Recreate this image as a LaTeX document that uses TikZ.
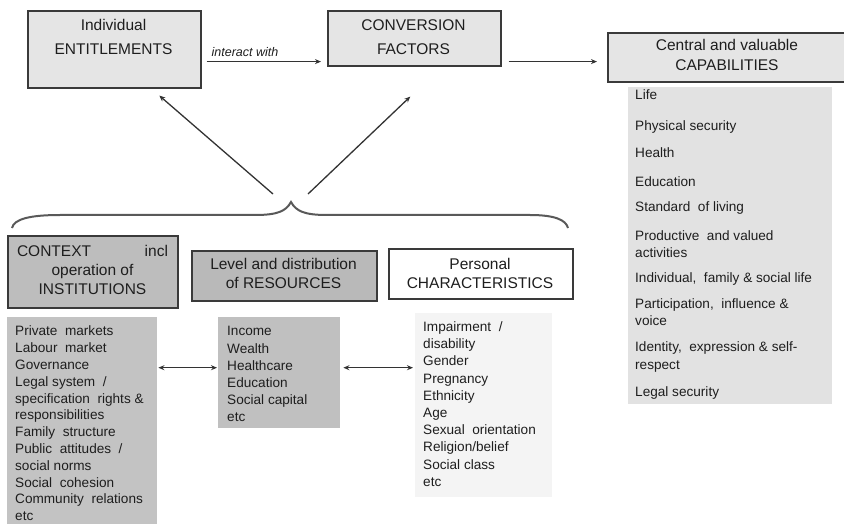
\documentclass[tikz,border=0pt]{standalone}
\usepackage{fontspec}
\setmainfont{Liberation Sans}
\usetikzlibrary{arrows.meta,calc}
\definecolor{bordc}{HTML}{3A3A3A}
\definecolor{txtc}{HTML}{1E1E1E}
\definecolor{topfill}{HTML}{E5E5E5}
\definecolor{capfill}{HTML}{E2E2E2}
\definecolor{ctxbox}{HTML}{BDBDBD}
\definecolor{ctxlist}{HTML}{C3C3C3}
\definecolor{resbox}{HTML}{B9B9B9}
\definecolor{reslist}{HTML}{C0C0C0}
\definecolor{perslist}{HTML}{F4F4F4}
\definecolor{linec}{HTML}{333333}
\begin{document}
\begin{tikzpicture}[x=1pt,y=-1pt,
  box/.style={draw=bordc, line width=1.6pt, inner sep=0pt, anchor=north west},
  panel/.style={draw=none, inner sep=0pt, anchor=north west},
  hdr/.style={font=\fontsize{15.5}{19.5}\selectfont, text=txtc, align=center, anchor=north, inner sep=0pt},
  lst/.style={font=\fontsize{13.6}{17.2}\selectfont, text=txtc, align=left, anchor=north west, inner sep=0pt},
  arr/.style={draw=linec, line width=1.3pt, -{Stealth[length=6pt,width=5pt]}},
  darr/.style={draw=linec, line width=1.3pt, {Stealth[length=6pt,width=5pt]}-{Stealth[length=6pt,width=5pt]}},
  bracec/.style={draw=black!65, line width=2pt}
]
\useasboundingbox (0,0) rectangle (844,524);

% ---------- top row ----------
\node[box, fill=topfill, minimum width=173pt, minimum height=77pt] (ent) at (27,10) {};
\node[hdr, font=\fontsize{15.5}{24}\selectfont] (entt) at (113.5,19.5) {Individual\\ENTITLEMENTS};

\node[box, fill=topfill, minimum width=173pt, minimum height=55pt] (conv) at (327,10) {};
\node[hdr, font=\fontsize{15.5}{24}\selectfont] (convt) at (413.5,19.5) {CONVERSION\\FACTORS};

\node[box, fill=topfill, minimum width=240pt, minimum height=49pt] (cap) at (607,32) {};
\node[hdr, font=\fontsize{15.5}{20}\selectfont] (capt) at (727,39.5) {Central and valuable\\CAPABILITIES};

\node[panel, fill=capfill, minimum width=204pt, minimum height=317pt] (capl) at (628,87) {};
\node[lst] (caplt) at (635,89.4) {Life\\[13.8pt]
Physical security\\[9.8pt]
Health\\[11.8pt]
Education\\[7.8pt]
Standard \ of living\\[11.8pt]
Productive \ and valued\\
activities\\[7.8pt]
Individual, \ family \& social life\\[8.8pt]
Participation, \ influence \&\\
voice\\[8.8pt]
Identity, \ expression \& self-\\
respect\\[9.8pt]
Legal security};

% interact arrow
\coordinate (a1) at ($(conv.south west)+(-6,-5)$);
\draw[arr] ($(ent.east |- a1)+(5,0)$) -- (a1);
\node[font=\itshape\fontsize{12.5}{14}\selectfont, text=txtc, inner sep=0pt] (inter) at (245,52) {interact with};

\coordinate (a2) at ($(cap.west |- a1)+(-10,0)$);
\draw[arr] ($(conv.east |- a1)+(7,0)$) -- (a2);

% ---------- brace ----------
\coordinate (bt) at (291,202);
\draw[bracec] (12,228) .. controls (14,219) and (30,215) .. (60,215)
  -- (255,215) .. controls (278,215) and (286,211) .. (bt)
  .. controls (296,211) and (304,215) .. (327,215)
  -- (530,215) .. controls (555,215) and (566,220) .. (568,228);

\draw[arr] ($(bt)+(-18,-8)$) -- ($(ent.south)+(45,7)$);
\draw[arr] ($(bt)+(17,-8)$) -- ($(conv.south)+(-4,30)$);

% ---------- bottom headers ----------
\node[box, fill=ctxbox, minimum width=170pt, minimum height=72pt] (ctx) at (7,235) {};
\node[hdr, font=\fontsize{15.5}{19}\selectfont] (ctxt) at (92.5,244.8) {\hbox to 151pt{CONTEXT\hfill incl}\\operation of\\INSTITUTIONS};

\node[box, fill=resbox, minimum width=185pt, minimum height=50pt] (res) at (191,250) {};
\node[hdr] (rest) at (283.5,257.8) {Level and distribution\\of RESOURCES};

\node[box, fill=white, minimum width=184pt, minimum height=50pt] (pers) at (388,248) {};
\node[hdr] (perst) at (480,257.8) {Personal\\CHARACTERISTICS};

% ---------- bottom lists ----------
\node[panel, fill=ctxlist, minimum width=150pt, minimum height=215pt] (ctxl) at (7,317) {};
\node[lst, font=\fontsize{13.6}{16.8}\selectfont] (ctxlt) at (15,325.8) {Private \ markets\\
Labour \ market\\
Governance\\
Legal system \ /\\
specification \ rights \&\\
responsibilities\\
Family \ structure\\
Public \ attitudes \ /\\
social norms\\
Social \ cohesion\\
Community \ relations\\
etc};

\node[panel, fill=reslist, minimum width=122pt, minimum height=111pt] (resl) at (218,317) {};
\node[lst] (reslt) at (227,326.4) {Income\\Wealth\\Healthcare\\Education\\Social capital\\etc};

\node[panel, fill=perslist, minimum width=137pt, minimum height=184pt] (persl) at (415,313) {};
\node[lst] (perslt) at (423,321.4) {Impairment \ /\\
disability\\
Gender\\
Pregnancy\\
Ethnicity\\
Age\\
Sexual \ orientation\\
Religion/belief\\
Social class\\
etc};

\coordinate (d1) at ($(resl.west)+(-1,-5)$);
\draw[darr] ($(ctxl.east |- d1)+(1,0)$) -- (d1);
\coordinate (d2) at ($(persl.west |- d1)+(-2,0)$);
\draw[darr] ($(resl.east |- d1)+(3,0)$) -- (d2);
\end{tikzpicture}
\end{document}
